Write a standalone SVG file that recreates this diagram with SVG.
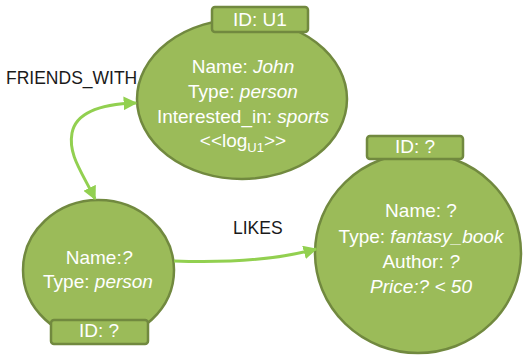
<svg xmlns="http://www.w3.org/2000/svg" width="523" height="356" viewBox="0 0 523 356">
<defs>
<style>
.node{fill:#9BBB59;stroke:#71893F;stroke-width:2.5}
.tab{fill:#9BBB59;stroke:#71893F;stroke-width:2.5}
.t{font-family:"Liberation Sans",Arial,sans-serif;font-size:19px;fill:#fff;text-anchor:middle}
.it{font-style:italic}
.lbl{font-family:"Liberation Sans",Arial,sans-serif;font-size:17.5px;fill:#1a1a1a}
.conn{fill:none;stroke:#92D050;stroke-width:3}
</style>
<marker id="ah" viewBox="0 0 10 10" refX="9" refY="5" markerWidth="4.6" markerHeight="4.6" orient="auto-start-reverse" markerUnits="strokeWidth">
<path d="M0,0 L10,5 L0,10 z" fill="#92D050"/>
</marker>
</defs>
<g id="node-u1">
<ellipse class="node" cx="242" cy="99" rx="105" ry="80"/>
<rect class="tab" x="212" y="7" width="96" height="25" rx="3"/>
<text class="t" x="260" y="26">ID: U1</text>
<text class="t" x="243" y="73">Name: <tspan class="it">John</tspan></text>
<text class="t" x="243" y="98">Type: <tspan class="it">person</tspan></text>
<text class="t" x="243" y="123">Interested_in: <tspan class="it">sports</tspan></text>
<text class="t" x="243" y="147">&lt;&lt;log<tspan font-size="13" dy="5">U1</tspan><tspan dy="-5">&gt;&gt;</tspan></text>
</g>
<g id="node-person">
<ellipse class="node" cx="98.5" cy="270" rx="75.5" ry="70"/>
<rect class="tab" x="51" y="320" width="97" height="24" rx="3"/>
<text class="t" x="99" y="337">ID: ?</text>
<text class="t" x="99" y="264">Name:<tspan class="it">?</tspan></text>
<text class="t" x="98" y="288">Type: <tspan class="it">person</tspan></text>
</g>
<g id="node-book">
<ellipse class="node" cx="418" cy="253" rx="103" ry="100"/>
<rect class="tab" x="367" y="136" width="96" height="23" rx="3"/>
<text class="t" x="415" y="153">ID: ?</text>
<text class="t" x="421" y="217">Name: ?</text>
<text class="t" x="421" y="243">Type: <tspan class="it">fantasy_book</tspan></text>
<text class="t" x="421" y="268">Author: <tspan class="it">?</tspan></text>
<text class="t it" x="421" y="293">Price:? &lt; 50</text>
</g>
<g id="connectors">
<path class="conn" d="M95,199 C82,172 68,155 72,133 C76,112 100,104 136,103" marker-start="url(#ah)" marker-end="url(#ah)"/>
<path class="conn" d="M174,261 C230,263 280,259 316,249" marker-end="url(#ah)"/>
<text class="lbl" x="6" y="84">FRIENDS_WITH</text>
<text class="lbl" x="233" y="234">LIKES</text>
</g>
</svg>
